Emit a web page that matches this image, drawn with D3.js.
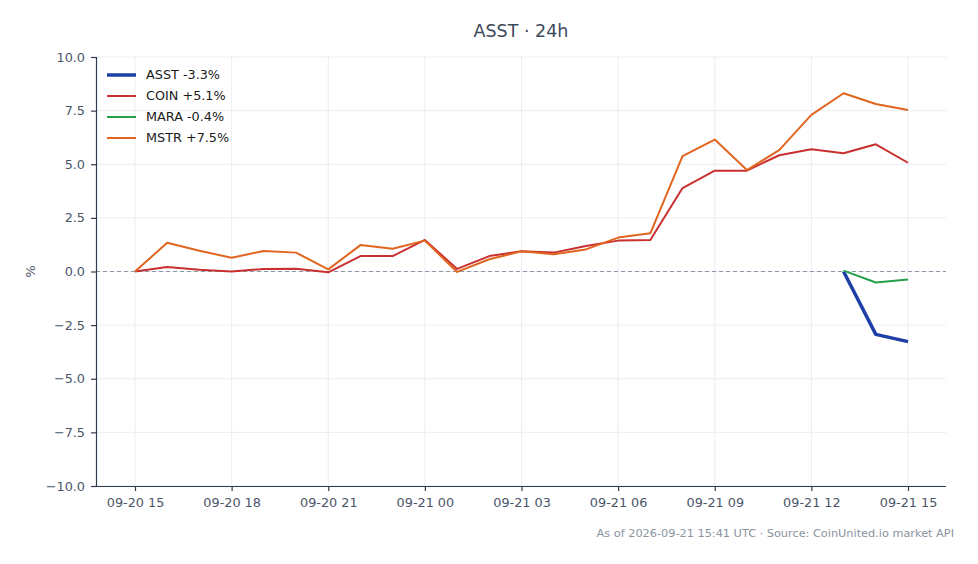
<!DOCTYPE html>
<html lang="en">
<head>
<meta charset="utf-8">
<title>ASST 24h</title>
<script src="https://d3js.org/d3.v7.min.js"></script>
<style>
  body { margin: 0; background: #fff; }
  svg text { font-family: "DejaVu Sans", sans-serif; }
</style>
</head>
<body>
<svg id="chart" width="978" height="564"></svg>
<script>
// hourly timestamps, 09-20 15:00 .. 09-21 15:00 (UTC)
var hours = [
  "2026-09-20T15", "2026-09-20T16", "2026-09-20T17", "2026-09-20T18", "2026-09-20T19",
  "2026-09-20T20", "2026-09-20T21", "2026-09-20T22", "2026-09-20T23", "2026-09-21T00",
  "2026-09-21T01", "2026-09-21T02", "2026-09-21T03", "2026-09-21T04", "2026-09-21T05",
  "2026-09-21T06", "2026-09-21T07", "2026-09-21T08", "2026-09-21T09", "2026-09-21T10",
  "2026-09-21T11", "2026-09-21T12", "2026-09-21T13", "2026-09-21T14", "2026-09-21T15"
];

// % change series (null = no data)
var asst = [null, null, null, null, null, null, null, null, null, null, null, null,
  null, null, null, null, null, null, null, null, null, null, 0, -2.93, -3.27];
var coin = [0, 0.21, 0.08, 0, 0.12, 0.13, -0.04, 0.72, 0.72, 1.47, 0.12, 0.72,
  0.94, 0.88, 1.19, 1.44, 1.47, 3.89, 4.70, 4.70, 5.42, 5.70, 5.51, 5.93, 5.07];
var mara = [null, null, null, null, null, null, null, null, null, null, null, null,
  null, null, null, null, null, null, null, null, null, null, 0.04, -0.51, -0.37];
var mstr = [0, 1.34, 0.97, 0.64, 0.96, 0.88, 0.10, 1.23, 1.06, 1.44, -0.02, 0.57,
  0.94, 0.80, 1.03, 1.58, 1.78, 5.38, 6.15, 4.73, 5.66, 7.30, 8.31, 7.81, 7.53];

var seriesNames = ["ASST", "COIN", "MARA", "MSTR"];
var seriesLabels = ["ASST -3.3%", "COIN +5.1%", "MARA -0.4%", "MSTR +7.5%"];
var yTicks = [-10, -7.5, -5, -2.5, 0, 2.5, 5, 7.5, 10];

var colors = { ASST: "#1e40a6", COIN: "#c8302f", MARA: "#23a048", MSTR: "#e0651f" };
var widths = { ASST: 3.5, COIN: 2, MARA: 2, MSTR: 2 };
var values = { ASST: asst, COIN: coin, MARA: mara, MSTR: mstr };

var svg = d3.select("#chart");
var margin = {top: 57, right: 32, bottom: 78, left: 96};
var W = 978, H = 564;
var innerW = W - margin.left - margin.right,
    innerH = H - margin.top - margin.bottom;

var parse = d3.utcParse("%Y-%m-%dT%H");
var dates = hours.map(parse);

var x = d3.scaleUtc()
  .domain(d3.extent(dates))
  .range([39, innerW - 38]);
var y = d3.scaleLinear().domain([-10, 10]).range([innerH, 0]);

var g = svg.append("g")
  .attr("transform", "translate(" + margin.left + "," + margin.top + ")");

var xTickVals = d3.utcHour.every(3).range(dates[0], d3.utcHour.offset(dates[dates.length - 1], 1));

// grid
g.append("g").selectAll("line").data(yTicks).enter().append("line")
  .attr("x1", 0).attr("x2", innerW)
  .attr("y1", function(d){ return y(d); }).attr("y2", function(d){ return y(d); })
  .attr("stroke", "#e6e9ee").attr("stroke-width", 0.8);
g.append("g").selectAll("line").data(xTickVals).enter().append("line")
  .attr("x1", function(d){ return x(d); }).attr("x2", function(d){ return x(d); })
  .attr("y1", 0).attr("y2", innerH)
  .attr("stroke", "#e6e9ee").attr("stroke-width", 0.8);

// zero line
g.append("line")
  .attr("x1", 0).attr("x2", innerW)
  .attr("y1", y(0)).attr("y2", y(0))
  .attr("stroke", "#8a97a8").attr("stroke-width", 1)
  .attr("stroke-dasharray", "4,3");

// axes
var xAxis = g.append("g")
  .attr("transform", "translate(0," + innerH + ")")
  .call(d3.axisBottom(x).tickValues(xTickVals).tickSize(5).tickPadding(7)
    .tickFormat(d3.utcFormat("%m-%d %H")));
var yAxis = g.append("g")
  .call(d3.axisLeft(y).tickValues(yTicks).tickSize(5).tickPadding(6)
    .tickFormat(function(d){ return d3.format(".1f")(d).replace("-", "\u2212"); }));

[xAxis, yAxis].forEach(function(a){
  a.select(".domain").attr("stroke", "#2f3d4e").attr("stroke-width", 1.2);
  a.selectAll(".tick line").attr("stroke", "#2f3d4e").attr("stroke-width", 1.2);
  a.selectAll(".tick text").attr("fill", "#4a5568").style("font-size", "12.8px")
    .style("font-family", "'DejaVu Sans', sans-serif");
});
xAxis.select(".domain").attr("d", "M0,0.5H" + innerW);
yAxis.select(".domain").attr("d", "M0.5," + innerH + "V0");

// lines
var line = d3.line()
  .defined(function(d){ return d != null; })
  .x(function(d, i){ return x(dates[i]); })
  .y(function(d){ return y(d); });

seriesNames.forEach(function(name){
  g.append("path")
    .datum(values[name])
    .attr("fill", "none")
    .attr("stroke", colors[name])
    .attr("stroke-width", widths[name])
    .attr("stroke-linejoin", "round")
    .attr("d", line);
});

// legend
var legend = g.append("g").attr("transform", "translate(11,18)");
seriesNames.forEach(function(name, i){
  var row = legend.append("g").attr("transform", "translate(0," + (i * 21) + ")");
  row.append("line").attr("x1", 0).attr("x2", 29).attr("y1", 0).attr("y2", 0)
    .attr("stroke", colors[name]).attr("stroke-width", widths[name]);
  row.append("text").attr("x", 39).attr("y", 0).attr("dy", "0.35em")
    .attr("fill", "#1a1a1a").style("font-size", "12.8px")
    .text(seriesLabels[i]);
});

// title
svg.append("text")
  .attr("x", margin.left + innerW / 2).attr("y", 37)
  .attr("text-anchor", "middle")
  .attr("fill", "#3d4a5c").style("font-size", "17.5px")
  .text("ASST \u00b7 24h");

// y label
svg.append("text")
  .attr("transform", "translate(35," + (margin.top + innerH / 2) + ") rotate(-90)")
  .attr("text-anchor", "middle")
  .attr("fill", "#4a5568").style("font-size", "12.8px")
  .text("%");

// footer
svg.append("text")
  .attr("x", 954).attr("y", 537)
  .attr("text-anchor", "end")
  .attr("fill", "#8a93a0").style("font-size", "11.3px")
  .text("As of 2026-09-21 15:41 UTC \u00b7 Source: CoinUnited.io market API");
</script>
</body>
</html>
